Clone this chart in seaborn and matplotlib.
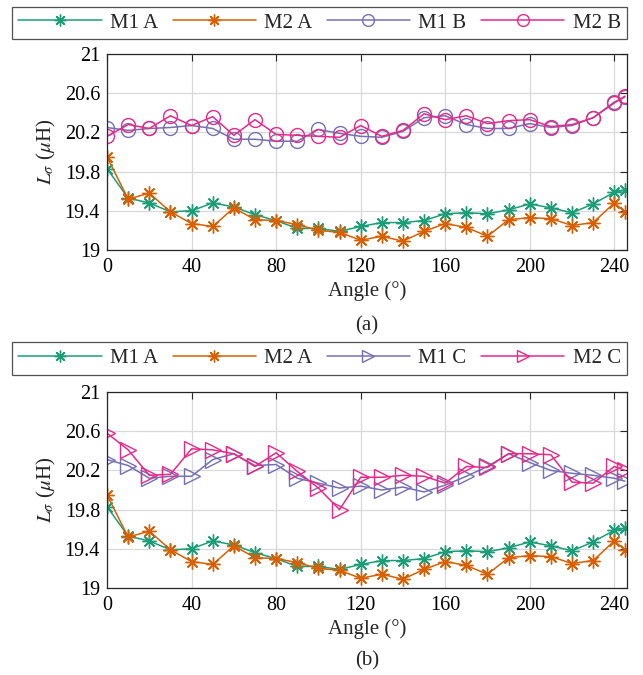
import numpy as np
import pandas as pd
import matplotlib
matplotlib.use("Agg")
import matplotlib.pyplot as plt
import seaborn as sns
from matplotlib.lines import Line2D

angles = [0, 10, 20, 30, 40, 50, 60, 70, 80, 90, 100, 110, 120, 130, 140, 150,
          160, 170, 180, 190, 200, 210, 220, 230, 240, 245]

m1_a = [19.83, 19.53, 19.48, 19.39, 19.40, 19.48, 19.44, 19.36, 19.30, 19.22, 19.22, 19.19, 19.24,
        19.28, 19.28, 19.30, 19.37, 19.38, 19.37, 19.41, 19.47, 19.43, 19.38, 19.47, 19.59, 19.61]
m2_a = [19.95, 19.52, 19.58, 19.39, 19.27, 19.24, 19.43, 19.31, 19.30, 19.26, 19.20, 19.18, 19.10,
        19.14, 19.09, 19.19, 19.27, 19.23, 19.14, 19.31, 19.33, 19.32, 19.25, 19.28, 19.48, 19.39]
m1_b = [20.25, 20.22, 20.24, 20.25, 20.27, 20.24, 20.13, 20.13, 20.11, 20.11, 20.23, 20.19, 20.16,
        20.15, 20.21, 20.35, 20.37, 20.28, 20.24, 20.24, 20.29, 20.25, 20.27, 20.35, 20.51, 20.56]
m2_b = [20.16, 20.28, 20.24, 20.37, 20.27, 20.36, 20.17, 20.33, 20.18, 20.17, 20.16, 20.15, 20.27,
        20.16, 20.22, 20.39, 20.33, 20.37, 20.29, 20.32, 20.33, 20.26, 20.28, 20.35, 20.50, 20.57]
m1_c = [20.31, 20.25, 20.12, 20.14, 20.14, 20.31, 20.37, 20.25, 20.26, 20.12, 20.07, 20.02, 20.04,
        20.00, 20.03, 19.98, 20.05, 20.14, 20.24, 20.37, 20.28, 20.20, 20.17, 20.15, 20.12, 20.09]
m2_c = [20.58, 20.41, 20.15, 20.16, 20.42, 20.41, 20.37, 20.24, 20.38, 20.19, 20.02, 19.80, 20.13,
        20.13, 20.15, 20.14, 20.07, 20.24, 20.23, 20.37, 20.37, 20.36, 20.08, 20.07, 20.24, 20.20]

x_ticks = [0, 40, 80, 120, 160, 200, 240]
y_ticks = [19, 19.4, 19.8, 20.2, 20.6, 21]
y_tick_labels = ["19", "19.4", "19.8", "20.2", "20.6", "21"]

GREEN, ORANGE, PURPLE, MAGENTA = "#1b9e77", "#d95f02", "#7570b3", "#e7298a"
AST = (8, 2, 0)

sns.set_theme(style="white")
plt.rcParams["font.family"] = ["Liberation Serif", "DejaVu Serif"]
plt.rcParams["mathtext.fontset"] = "stix"

W, H = 643, 675
fig = plt.figure(figsize=(W / 100, H / 100), dpi=100)

def fy(px):
    return 1 - px / H

ax1 = fig.add_axes([107 / W, fy(250), 520 / W, 196 / H])
ax2 = fig.add_axes([107 / W, fy(588), 520 / W, 196 / H])

def draw(ax, series):
    handles = []
    for name, vals, color, marker, ms, filled in series:
        df = pd.DataFrame({"Angle": angles, "L": vals})
        kw = dict(markeredgecolor=color, markeredgewidth=1.0)
        if not filled:
            kw["markerfacecolor"] = "none"
        sns.lineplot(data=df, x="Angle", y="L", ax=ax, color=color, marker=marker,
                     markersize=ms, linewidth=1.1, legend=False, **kw)
        handles.append(Line2D([], [], color=color, marker=marker, markersize=ms * 0.85,
                              linewidth=1.1, label=name,
                              markerfacecolor="none" if not filled else color,
                              markeredgecolor=color, markeredgewidth=1.0))
    ax.set_xlim(0, 246)
    ax.set_ylim(19, 21)
    ax.set_xticks(x_ticks)
    ax.set_yticks(y_ticks)
    ax.set_yticklabels(y_tick_labels)
    ax.grid(True, color="#d9d9d9", linewidth=0.9)
    ax.tick_params(direction="in", top=True, right=True, length=5, width=0.8,
                   labelsize=14.5, colors="#262626", pad=5)
    ax.tick_params(axis="x", pad=6)
    for lbl in ax.get_xticklabels() + ax.get_yticklabels():
        lbl.set_color("black")
    for s in ax.spines.values():
        s.set_color("#262626")
        s.set_linewidth(0.9)
    ax.set_xlabel("Angle (\u00b0)", fontsize=15, labelpad=3)
    ax.set_ylabel("$L_\\sigma$ ($\\mu$H)", fontsize=15, labelpad=5)
    return handles

h1 = draw(ax1, [("M1 A", m1_a, GREEN, AST, 10, True),
                ("M2 A", m2_a, ORANGE, AST, 10, True),
                ("M1 B", m1_b, PURPLE, "o", 10, False),
                ("M2 B", m2_b, MAGENTA, "o", 10, False)])
h2 = draw(ax2, [("M1 A", m1_a, GREEN, AST, 10, True),
                ("M2 A", m2_a, ORANGE, AST, 10, True),
                ("M1 C", m1_c, PURPLE, ">", 11, False),
                ("M2 C", m2_c, MAGENTA, ">", 11, False)])

for handles, top, bot in [(h1, 8, 38), (h2, 342, 375)]:
    leg = fig.legend(handles=handles, loc="center", ncol=4, mode="expand",
                     bbox_to_anchor=(12 / W, fy(bot), 615 / W, (bot - top) / H),
                     borderaxespad=0, fontsize=15, handlelength=4.0, handletextpad=0.4,
                     columnspacing=1.0, frameon=True, fancybox=False, borderpad=0.3)
    leg.get_frame().set_edgecolor("#262626")
    leg.get_frame().set_linewidth(0.9)

fig.text(367 / W, fy(326), "(a)", ha="center", va="center", fontsize=15)
fig.text(367 / W, fy(661), "(b)", ha="center", va="center", fontsize=15)

fig.savefig("out.png", dpi=100)
